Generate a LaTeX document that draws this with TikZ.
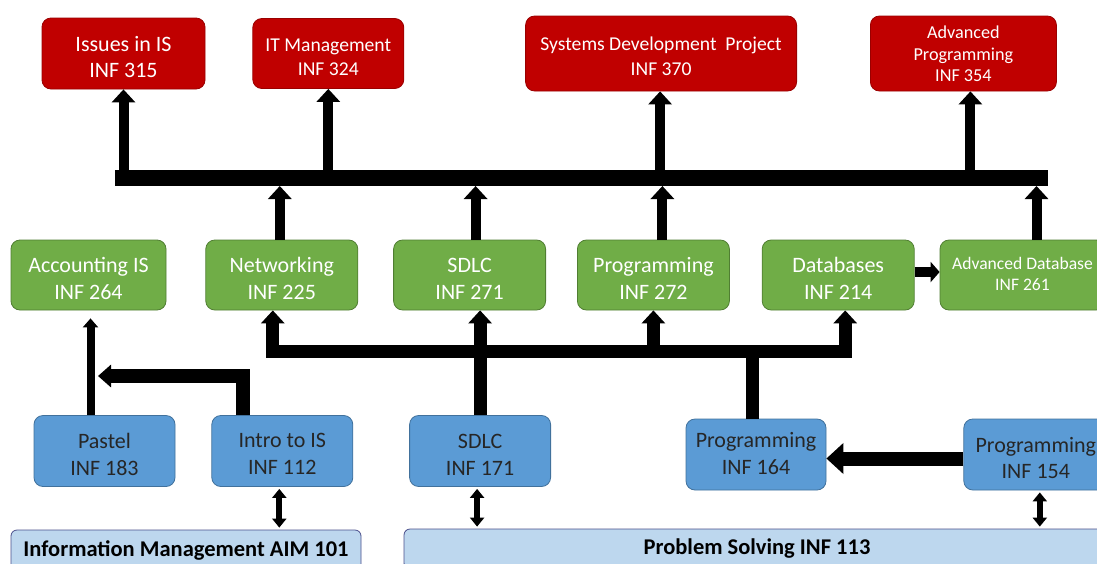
\documentclass[tikz,border=0pt]{standalone}
\usepackage{fontspec}
\setmainfont{Carlito}
\usepackage{tikz}
\usetikzlibrary{positioning}
\usetikzlibrary{arrows.meta}
\usetikzlibrary{calc}

\definecolor{boxred}{HTML}{C00000}
\definecolor{linered}{HTML}{9A0000}
\definecolor{boxgreen}{HTML}{70AD47}
\definecolor{linegreen}{HTML}{507E32}
\definecolor{boxblue}{HTML}{5B9BD5}
\definecolor{lineblue}{HTML}{41719C}
\definecolor{boxbase}{HTML}{BDD7EE}
\definecolor{linebase}{HTML}{4A4F8C}

\newcommand{\sz}[2]{\fontsize{#1}{#2}\selectfont}

\begin{document}
\begin{tikzpicture}[x=1pt, y=-1pt, node distance=35pt,
  course/.style={rounded corners=9pt, inner sep=0pt, align=center, line width=0.8pt, text depth=0pt},
  redbox/.style={course, fill=boxred, draw=linered, text=white, minimum height=72pt, text height=44pt, font=\sz{19.6}{24.5}},
  greenbox/.style={course, fill=boxgreen, draw=linegreen, text=white, minimum width=152pt, minimum height=70pt, text height=48pt, font=\sz{22}{27}},
  bluebox/.style={course, fill=boxblue, draw=lineblue, text=black!85, minimum width=141pt, minimum height=71pt, text height=48pt, font=\sz{22}{26.5}},
  basebox/.style={course, rounded corners=6pt, fill=boxbase, draw=linebase, minimum height=40pt, text depth=, font=\sz{22.5}{27}\bfseries},
  busline/.style={line width=16pt},
  uparrow/.style={line width=10pt, -{Triangle[width=23pt,length=13pt]}},
  branch/.style={line width=13pt},
  brancharrow/.style={branch, -{Triangle[width=23pt,length=13pt]}},
  thinup/.style={line width=8pt, -{Triangle[width=15pt,length=9pt]}, shorten >=8pt},
  leftarrow/.style={line width=14pt, -{Triangle[width=22pt,length=13pt]}},
  bigleft/.style={line width=14pt, -{Triangle[width=30pt,length=17pt]}},
  sidearrow/.style={line width=10pt, -{Triangle[width=20pt,length=9pt]}},
  twoway/.style={line width=6pt, {Triangle[width=14pt,length=9pt]}-{Triangle[width=14pt,length=9pt]}, shorten <=2pt, shorten >=2pt}]

\useasboundingbox (0,0) rectangle (1097,563);
\clip (0,0) rectangle (1097,563);

\node[redbox, minimum width=163pt, minimum height=71pt, text height=48pt, font=\sz{22}{26.5}] (r315) at (123.5,53.5) {Issues in IS\\INF 315};
\node[redbox, minimum width=151pt, minimum height=70pt, right=47pt of r315] (r324) {IT Management\\INF 324};
\node[redbox, minimum width=271pt, minimum height=75pt, text height=43.5pt, right=121pt of r324] (r370) {Systems Development\ \ Project\\INF 370};
\node[redbox, minimum width=186pt, minimum height=75pt, right=73pt of r370, text height=56pt, font=\sz{18.2}{21.5}] (r354) {Advanced\\Programming\\INF 354};

\node[greenbox, minimum width=155pt] (acc) at (88.5,275) {Accounting IS\\INF 264};
\node[greenbox, right=39pt of acc] (net) {Networking\\INF 225};
\node[greenbox, right=35pt of net] (sdlc2) {SDLC\\INF 271};
\node[greenbox, right=31pt of sdlc2] (prog2) {Programming\\INF 272};
\node[greenbox, right=32pt of prog2] (db) {Databases\\INF 214};
\node[greenbox, right=25pt of db, minimum width=165pt, text height=31.5pt, font=\sz{17.6}{21}] (adb) {Advanced Database\\INF 261};

\node[bluebox] (pastel) at (104.5,451) {Pastel\\INF 183};
\node[bluebox, right=36pt of pastel, text height=46.5pt] (intro) {Intro to IS\\INF 112};
\node[bluebox, right=56pt of intro] (sdlc1) {SDLC\\INF 171};
\node[bluebox, minimum width=140pt, text height=39pt] (p164) at (756,454.5) {Programming\\INF 164};
\node[bluebox, minimum width=144pt, right=137pt of p164] (p154) {Programming\\INF 154};

\node[basebox, minimum width=350pt] (aim) at (186,550) {Information Management AIM 101};
\node[basebox, minimum width=706pt] (ps) at (757,549) {Problem Solving INF 113};

\coordinate (busL) at (115,178);
\coordinate (busR) at (1048,178);
\coordinate (busB) at (115,186);
\draw[busline] (busL) -- (busR);
\foreach \n/\s in {r315/0, r324/0, r370/-1, r354/7}
  \draw[uparrow] ([xshift=\s pt]\n.south |- busL) -- ([xshift=\s pt]\n.south);
\foreach \n/\s in {net/-2, sdlc2/6, prog2/9, adb/14}
  \draw[uparrow] ([xshift=\s pt]\n.north) -- ([xshift=\s pt]\n.north |- busB);

\draw[sidearrow] ([yshift=3pt]db.east) -- ([yshift=3pt]db.east -| adb.west);

\coordinate (fork) at (752.5,351.5);
\draw[branch] (p164.north -| fork) -- (fork);
\draw[brancharrow] (fork) -| ([xshift=-9pt]net.south);
\draw[brancharrow] (fork) -| (prog2.south);
\draw[brancharrow] (fork) -| ([xshift=7pt]db.south);
\draw[brancharrow] (sdlc1.north) -- (sdlc1.north |- sdlc2.south);

\coordinate (meet) at (98,376);
\draw[thinup] ([xshift=-14pt]pastel.north) -- ([xshift=-14pt]pastel.north |- acc.south);
\draw[leftarrow] ([xshift=-39pt]intro.north) |- (meet);

\draw[bigleft] ([yshift=-4pt]p154.west) -- ([yshift=-4pt]p164.east);

\draw[twoway] ([xshift=-3pt]intro.south) -- ([xshift=-3pt]intro.south |- aim.north);
\draw[twoway] ([xshift=-3pt]sdlc1.south) -- ([xshift=-3pt]sdlc1.south |- ps.north);
\draw[twoway] ([xshift=4pt]p154.south) -- ([xshift=4pt]p154.south |- ps.north);

\end{tikzpicture}
\end{document}
